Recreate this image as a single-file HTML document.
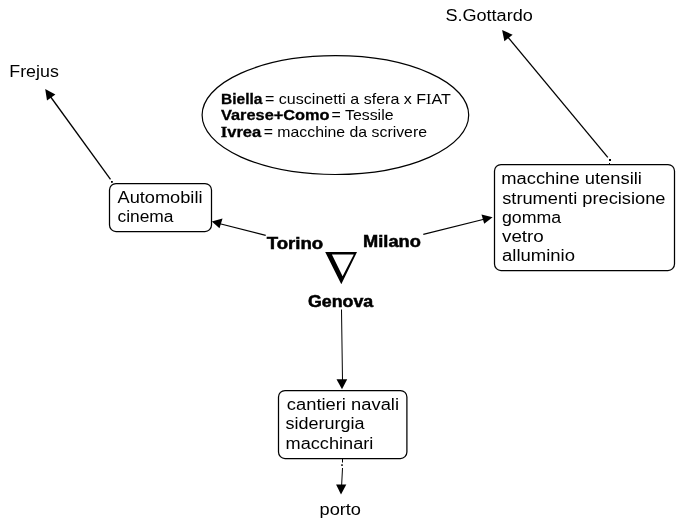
<!DOCTYPE html>
<html><head><meta charset="utf-8">
<style>
html,body{margin:0;padding:0;background:#fff;}
svg{display:block;will-change:transform;}
text{font-family:"Liberation Sans",sans-serif;fill:#000;}
.r{font-size:16px;}
.b{font-size:16px;font-weight:bold;stroke:#000;stroke-width:0.5px;}
.er{font-size:14.4px;}
.eb{font-size:14.4px;font-weight:bold;stroke:#000;stroke-width:0.3px;}
</style></head>
<body>
<svg width="676" height="528" viewBox="0 0 676 528">
<rect width="676" height="528" fill="#fff"/>
<g fill="none" stroke="#000" stroke-width="1">
  <ellipse cx="335.4" cy="115.1" rx="133.3" ry="59.4" stroke-width="1.2"/>
  <rect x="109.5" y="183.5" width="102" height="48" rx="6.5" ry="6.5" stroke-width="1.25"/>
  <rect x="494.5" y="164.5" width="180" height="106" rx="6.5" ry="6.5" stroke-width="1.25"/>
  <rect x="278.5" y="390.5" width="128.4" height="68" rx="6.5" ry="6.5" stroke-width="1.25"/>
  <line x1="50" y1="96" x2="110.5" y2="179.4" stroke-width="1.3"/>
  <line x1="219" y1="223.5" x2="265.7" y2="235.4" stroke-width="1.2"/>
  <line x1="423.3" y1="234.3" x2="485" y2="219" stroke-width="1.2"/>
  <line x1="507" y1="36" x2="607.8" y2="157.4" stroke-width="1.3"/>
  <line x1="341.5" y1="309.5" x2="342.5" y2="381"/>
  <line x1="342.5" y1="458" x2="342.5" y2="462.5"/>
  <line x1="342.5" y1="468" x2="341.6" y2="486"/>
</g>
<g fill="#000">
  <polygon points="45.2,89.1 55.4,94.4 47,100.5"/>
  <polygon points="211.8,221.5 222.5,218.6 219.5,228.3"/>
  <polygon points="492.6,217.2 481.5,214.5 484.2,223.8"/>
  <polygon points="502.1,30.1 512.6,34.7 504.4,41.3"/>
  <polygon points="336.5,379.2 347.2,379.2 342,389.2"/>
  <polygon points="336.1,484.4 346.3,484.4 341,494.4"/>
  <rect x="111" y="181" width="1.8" height="1.8"/>
  <rect x="609" y="159" width="2" height="2"/><rect x="609" y="163" width="1" height="1"/>
  <rect x="341.2" y="464.3" width="1.6" height="1.6"/>
  <path d="M325.2,252 L357,252 L341.3,284.2 Z M331.9,254.5 L342.6,276.2 L353.8,254.5 Z" fill-rule="evenodd"/>
</g>
<text class="r" x="9.3" y="77" textLength="49.5" lengthAdjust="spacingAndGlyphs">Frejus</text>
<text class="r" x="445.4" y="21.2" textLength="87.4" lengthAdjust="spacingAndGlyphs">S.Gottardo</text>
<text class="r" x="117.5" y="202.8" textLength="85" lengthAdjust="spacingAndGlyphs">Automobili</text>
<text class="r" x="117.5" y="222" textLength="56" lengthAdjust="spacingAndGlyphs">cinema</text>
<text class="eb" x="221" y="103.6" textLength="41.4" lengthAdjust="spacingAndGlyphs">Biella</text>
<text class="er" x="265" y="103.6" textLength="185.8" lengthAdjust="spacingAndGlyphs">= cuscinetti a sfera x F<tspan style="font-family:'Liberation Serif',serif">I</tspan>AT</text>
<text class="eb" x="221" y="120.1" textLength="108.6" lengthAdjust="spacingAndGlyphs">Varese+Como</text>
<text class="er" x="331.6" y="120.1" textLength="61.9" lengthAdjust="spacingAndGlyphs">= Tessile</text>
<text class="eb" x="220.8" y="137" textLength="40.5" lengthAdjust="spacingAndGlyphs"><tspan style="font-family:'Liberation Serif',serif">I</tspan>vrea</text>
<text class="er" x="263.7" y="137" textLength="163.3" lengthAdjust="spacingAndGlyphs">= macchine da scrivere</text>
<text class="b" x="266.7" y="249" textLength="56.5" lengthAdjust="spacingAndGlyphs">Torino</text>
<text class="b" x="363.1" y="247" textLength="57.7" lengthAdjust="spacingAndGlyphs">Milano</text>
<text class="b" x="308" y="306.7" textLength="65.2" lengthAdjust="spacingAndGlyphs">Genova</text>
<text class="r" x="501.3" y="183.9" textLength="140.6" lengthAdjust="spacingAndGlyphs">macchine utensili</text>
<text class="r" x="502.2" y="203.7" textLength="163.3" lengthAdjust="spacingAndGlyphs">strumenti precisione</text>
<text class="r" x="502" y="222.7" textLength="59.2" lengthAdjust="spacingAndGlyphs">gomma</text>
<text class="r" x="502" y="241.8" textLength="41.8" lengthAdjust="spacingAndGlyphs">vetro</text>
<text class="r" x="502" y="261" textLength="73" lengthAdjust="spacingAndGlyphs">alluminio</text>
<text class="r" x="286.8" y="409.7" textLength="112.2" lengthAdjust="spacingAndGlyphs">cantieri navali</text>
<text class="r" x="285.6" y="429" textLength="79" lengthAdjust="spacingAndGlyphs">siderurgia</text>
<text class="r" x="285.6" y="448.9" textLength="87.7" lengthAdjust="spacingAndGlyphs">macchinari</text>
<text class="r" x="319.5" y="515" textLength="41.5" lengthAdjust="spacingAndGlyphs">porto</text>
</svg>
</body></html>
